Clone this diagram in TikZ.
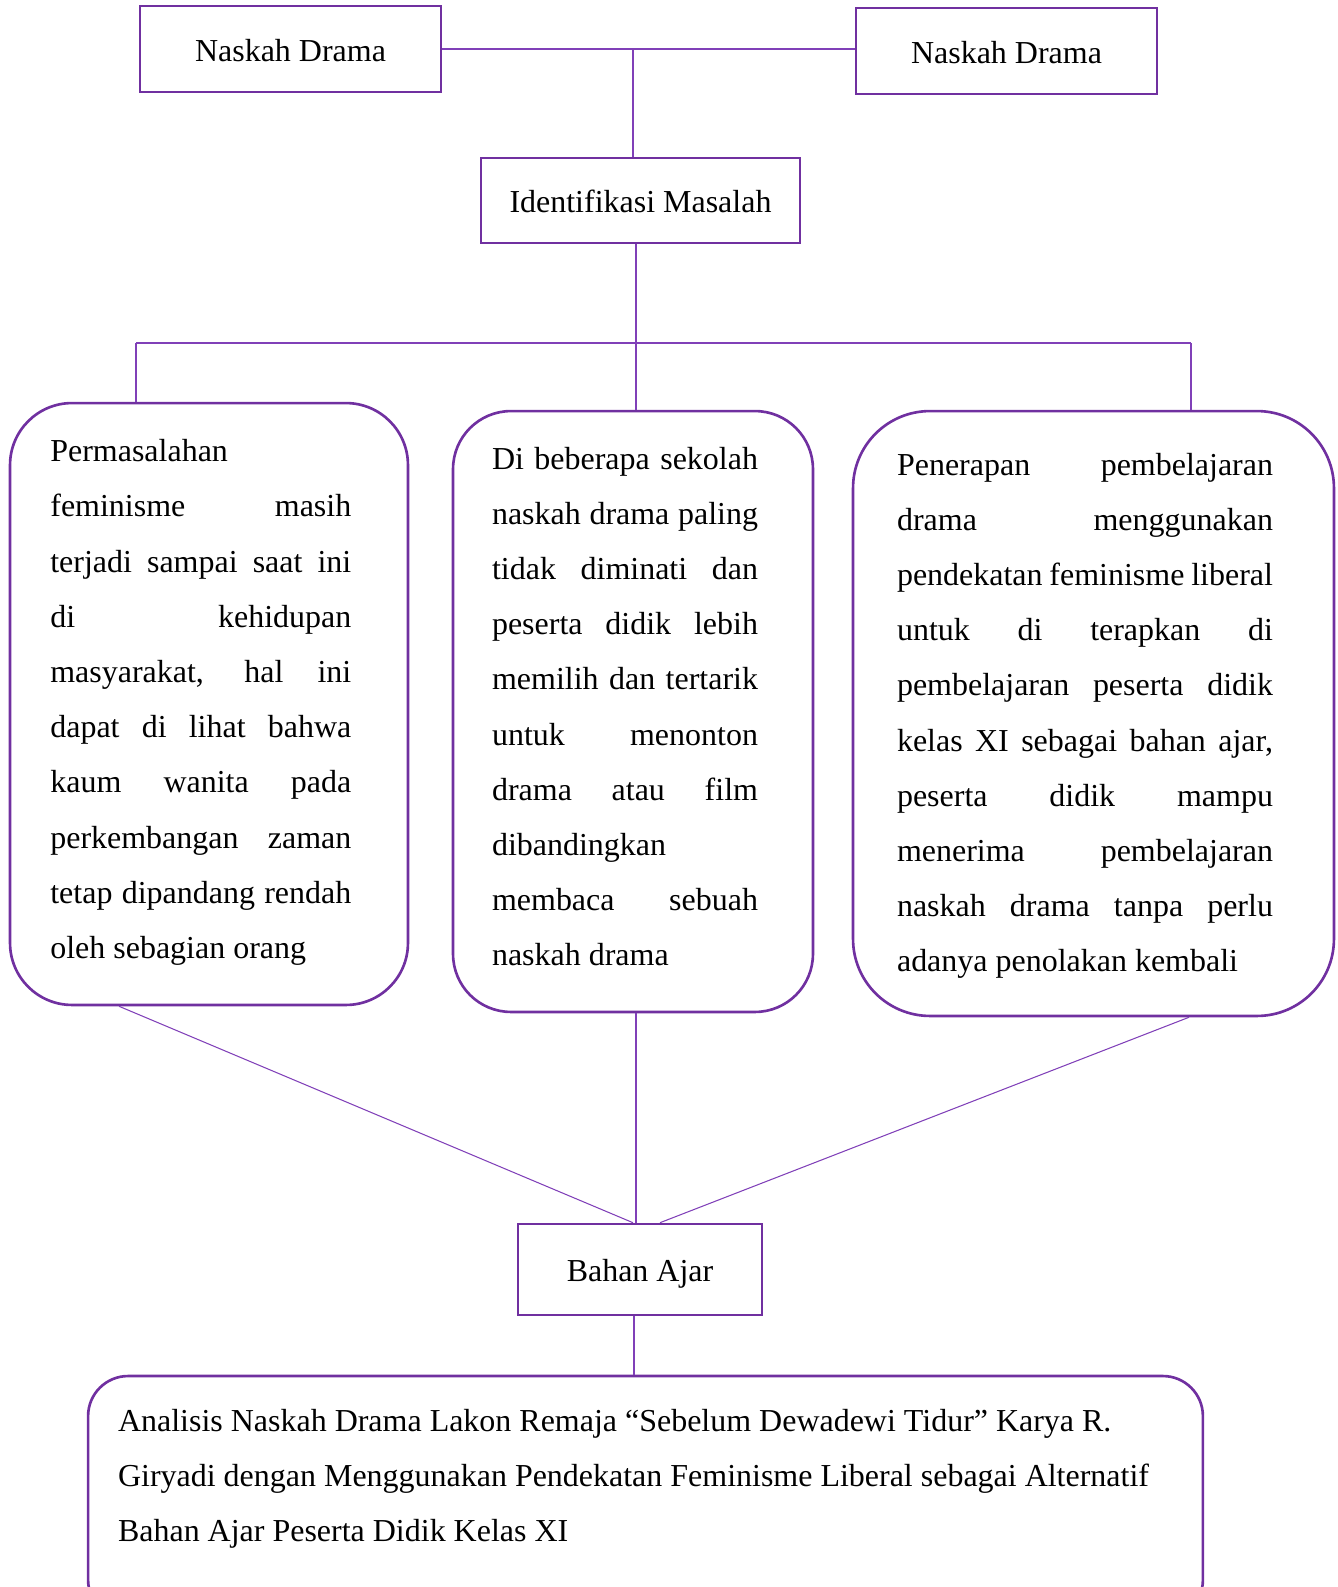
\documentclass[tikz,border=0pt]{standalone}
\usepackage{fontspec}
\setmainfont{Liberation Serif}
\usepackage{tikz}
\usetikzlibrary{positioning, calc}
\definecolor{kpurple}{HTML}{7030A0}
\definecolor{klink}{HTML}{8040B8}

\begin{document}
\begin{tikzpicture}[x=0.02cm, y=-0.02cm,
  every node/.style={font=\fontsize{18.2}{22}\selectfont},
  sqbox/.style={draw=kpurple, line width=1.5pt, rectangle, text height=13.9pt, text depth=0pt},
  rbox/.style={draw=kpurple, line width=1.5pt, rectangle},
  txt/.style={anchor=base west, inner sep=0pt},
  link/.style={draw=klink, line width=0.6pt}]
  \useasboundingbox (0,0) rectangle (1338,1587);
  \clip (0,0) rectangle (1338,1587);
  % top boxes
  \node[sqbox, minimum width=6.02cm, minimum height=1.72cm] (nd1) at (290.5,49) {Naskah Drama};
  \node[sqbox, minimum width=6.02cm, minimum height=1.72cm] (nd2) at (1006.5,51) {Naskah Drama};
  \node[sqbox, minimum width=6.38cm, minimum height=1.70cm] (idm) at (640.5,200.5) {Identifikasi Masalah};
  % three rounded boxes
  \node[rbox, rounded corners=1.24cm, minimum width=7.96cm, minimum height=12.04cm] (boxL) at (209,704) {};
  \node[rbox, rounded corners=1.16cm, minimum width=7.2cm, minimum height=12.02cm] (boxM) at (633,711.5) {};
  \node[rbox, rounded corners=1.54cm, minimum width=9.62cm, minimum height=12.1cm] (boxR) at (1093.5,713.5) {};
  % bahan ajar and title
  \node[sqbox, minimum width=4.88cm, minimum height=1.82cm] (bahan) at (640,1269.5) {Bahan Ajar};
  \node[rbox, rounded corners=0.8cm, minimum width=22.3cm, minimum height=4.88cm] (judul) at (645.5,1498) {};

  % text in the left box
  \foreach \t/\m [count=\i from 0] in {Permasalahan/l, feminisme masih/s,
      terjadi sampai saat ini/s, di kehidupan/s, {masyarakat, hal ini}/s,
      dapat di lihat bahwa/s, kaum wanita pada/s, perkembangan zaman/s,
      tetap dipandang rendah/s, oleh sebagian orang/l}
    \node[txt] (tl\i) at (50,461.7+55.2*\i) {\makebox[6.02cm][\m]{\t}};
  % text in the middle box
  \foreach \t/\m [count=\i from 0] in {Di beberapa sekolah/s, naskah drama paling/s,
      tidak diminati dan/s, peserta didik lebih/s, memilih dan tertarik/s,
      untuk menonton/s, drama atau film/s, dibandingkan/l,
      membaca sebuah/s, naskah drama/l}
    \node[txt] (tm\i) at (491.7,469+55.2*\i) {\makebox[5.32cm][\m]{\t}};
  % text in the right box
  \foreach \t/\m [count=\i from 0] in {Penerapan pembelajaran/s, drama menggunakan/s,
      pendekatan feminisme liberal/s, untuk di terapkan di/s,
      pembelajaran peserta didik/s, {kelas XI sebagai bahan ajar,}/s,
      peserta didik mampu/s, menerima pembelajaran/s,
      naskah drama tanpa perlu/s, adanya penolakan kembali/l}
    \node[txt] (tr\i) at (896.7,475+55.2*\i) {\makebox[7.52cm][\m]{\t}};
  % text in the title box
  \node[txt] (j1) at (117.7,1431) {Analisis Naskah Drama Lakon Remaja “Sebelum Dewadewi Tidur” Karya R.};
  \node[txt] (j2) at (117.7,1486) {Giryadi dengan Menggunakan Pendekatan Feminisme Liberal sebagai Alternatif};
  \node[txt] (j3) at (117.7,1541) {Bahan Ajar Peserta Didik Kelas XI};

  % connectors
  \coordinate (top) at (633,49);
  \coordinate (busL) at (136,343);
  \coordinate (busR) at (1191,343);
  \coordinate (down) at (636,343);
  \draw[link] (nd1.east) -- (nd1.east -| nd2.west);
  \draw[link] (top) -- (top |- idm.north);
  \draw[link] (down |- idm.south) -- (down);
  \draw[link] (busL) -- (busR);
  \draw[link] (busL) -- (busL |- boxL.north);
  \draw[link] (down) -- (down |- boxM.north);
  \draw[link] (busR) -- (busR |- boxR.north);
  \draw[link] ($(boxL.south)+(-90,0)$) -- ($(bahan.north)+(-7,0)$);
  \draw[link] ($(boxM.south)+(3,0)$) -- ($(bahan.north)+(-4,0)$);
  \draw[link] ($(boxR.south)+(95.5,0)$) -- ($(bahan.north)+(20,0)$);
  \draw[link] ($(bahan.south)+(-6,0)$) -- ($(bahan.south |- judul.north)+(-6,0)$);
\end{tikzpicture}
\end{document}
